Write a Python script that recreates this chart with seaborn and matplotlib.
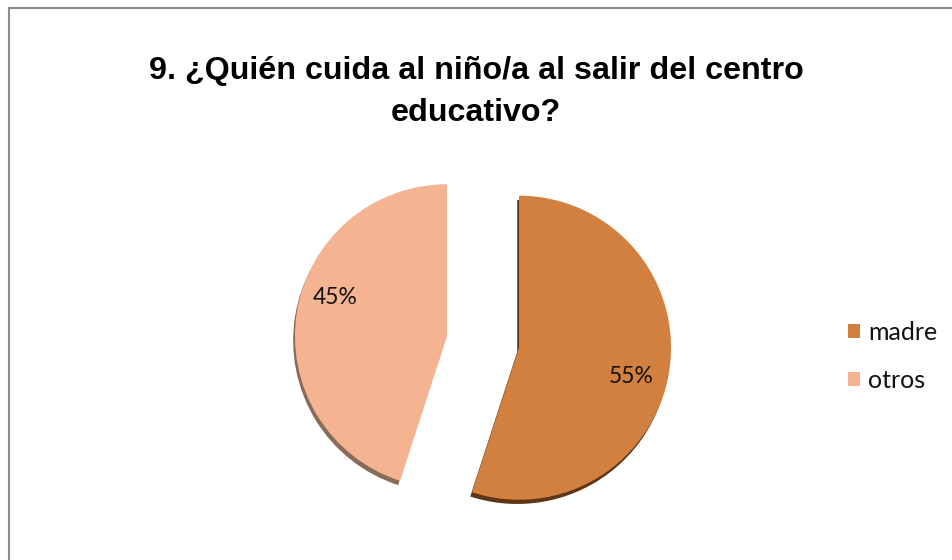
#!/usr/bin/env python3
# -*- coding: utf-8 -*-

import matplotlib
matplotlib.use('Agg')
import numpy as np
import matplotlib.pyplot as plt
import seaborn as sns

# ------------------------------------------------------------------------------
# data
# ------------------------------------------------------------------------------

labels = ['madre', 'otros']
values = [55, 45]
title = '9. ¿Quién cuida al niño/a al salir del centro\neducativo?'

# ------------------------------------------------------------------------------
# plot
# ------------------------------------------------------------------------------

sns.set_theme(style='white')
plt.rcParams['font.family'] = ['Lato', 'DejaVu Sans']

palette = sns.color_palette(['#D2803F', '#F4B391'])
rim = ['#5E3515', '#8A6A58']

fig = plt.figure(figsize=(9.53, 5.6), dpi=100)
ax = fig.add_axes([0, 0, 1, 1])

# pixel -> data mapping, 1 unit = pie radius (152 px)
R = 152.0
cx, cy = 483.0, 342.0

# 3d rim (darker copy shifted down-left)
ax.pie(values, colors=rim, startangle=90, counterclock=False,
       explode=[0.24, 0.24], radius=1.0, center=(-0.012, -0.028),
       frame=True, wedgeprops=dict(linewidth=0))

# main pie
wedges, texts, autotexts = ax.pie(values, colors=palette, startangle=90, counterclock=False,
                                  explode=[0.24, 0.24], radius=1.0, center=(0, 0),
                                  autopct='%d%%', pctdistance=0.76, frame=True,
                                  wedgeprops=dict(linewidth=0),
                                  textprops=dict(fontsize=16.5, color='#111111'))

# excel-like label placement (angle from each wedge's own center)
label_angles = [-14.5, 161]
label_dist = [0.76, 0.78]
for w, t, a, d in zip(wedges, autotexts, label_angles, label_dist):
    x0, y0 = w.center
    t.set_position((x0 + d * np.cos(np.radians(a)), y0 + d * np.sin(np.radians(a))))

ax.set_xlim(-cx / R, (953 - cx) / R)
ax.set_ylim((cy - 560) / R, cy / R)
ax.set_aspect('auto')
ax.set_xticks([])
ax.set_yticks([])
for s in ax.spines.values():
    s.set_visible(False)

# title
fig.text(476 / 953, 1 - 92 / 560, title, ha='center', va='center',
         fontsize=23.2, fontweight='bold', family=['Liberation Sans', 'DejaVu Sans'],
         linespacing=1.5, color='black')

# legend
leg = ax.legend(wedges, labels, loc='center left', bbox_to_anchor=(848 / 953, 1 - 356 / 560),
                frameon=False, fontsize=18, handlelength=0.5, handleheight=0.5,
                handletextpad=0.32, labelspacing=1.0, borderaxespad=0, borderpad=0)
for t in leg.get_texts():
    t.set_color('#111111')

# chart border (left / top only visible)
fig.add_artist(plt.Line2D([9.5 / 953, 9.5 / 953], [0, 1 - 7.5 / 560], transform=fig.transFigure,
                          color='#8c8c8c', linewidth=1.5))
fig.add_artist(plt.Line2D([9.5 / 953, 1], [1 - 7.5 / 560, 1 - 7.5 / 560], transform=fig.transFigure,
                          color='#8c8c8c', linewidth=1.5))

plt.savefig('out.png', dpi=100)
plt.close()
